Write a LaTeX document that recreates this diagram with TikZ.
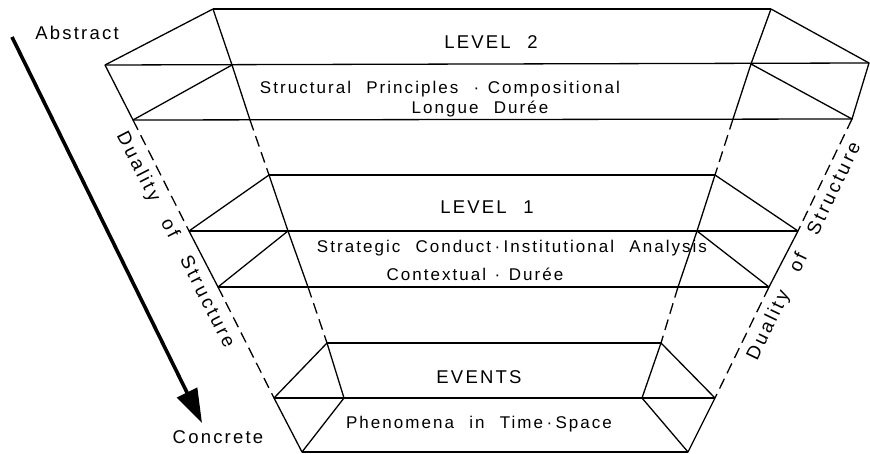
\documentclass[tikz,border=0pt]{standalone}
\usepackage{fontspec}
\setmainfont{Liberation Sans}
\usetikzlibrary{arrows.meta}
\newfontfamily\labfont[LetterSpace=12]{Liberation Sans}
\newfontfamily\sidefont[LetterSpace=15]{Liberation Sans}
\newcommand{\wg}{\hspace{0.9em}}
\begin{document}
\begin{tikzpicture}[x=1pt,y=-1pt,line width=1.3pt,line join=round,
  dashline/.style={dash pattern=on 11pt off 6pt},
  lbl/.style={font=\labfont\fontsize{17}{20}\selectfont,inner sep=0pt,anchor=base},
  head/.style={font=\labfont\fontsize{18.5}{22}\selectfont,inner sep=0pt,anchor=base},
  side/.style={font=\sidefont\fontsize{19}{22}\selectfont,inner sep=0pt,anchor=base}]
\useasboundingbox (0,0) rectangle (870,454);
% level 2
\coordinate (A2) at (213,9);  \coordinate (B2) at (771,9);
\coordinate (L2) at (105,65); \coordinate (R2) at (869,63);
\coordinate (M2L) at (232,65); \coordinate (M2R) at (751,64);
\coordinate (BL2) at (133,120); \coordinate (BR2) at (852,119);
\coordinate (I2L) at (250,120); \coordinate (I2R) at (733,119);
% level 1
\coordinate (A1) at (269,175); \coordinate (B1) at (715,175);
\coordinate (L1) at (189,231); \coordinate (R1) at (798,231);
\coordinate (M1L) at (288,231); \coordinate (M1R) at (697,231);
\coordinate (BL1) at (218,287); \coordinate (BR1) at (769,287);
\coordinate (I1L) at (308,287); \coordinate (I1R) at (678,287);
% events
\coordinate (A0) at (327,343); \coordinate (B0) at (661,343);
\coordinate (L0) at (274,398); \coordinate (R0) at (715,398);
\coordinate (M0L) at (344,398); \coordinate (M0R) at (642,398);
\coordinate (BL0) at (302,452); \coordinate (BR0) at (688,452);
% solid frames
\foreach \n in {2,1}{
  \draw (A\n) -- (B\n);
  \draw (L\n) -- (R\n);
  \draw (BL\n) -- (BR\n);
  \draw (A\n) -- (L\n) -- (BL\n) -- (M\n L);
  \draw (A\n) -- (M\n L) -- (I\n L);
  \draw (B\n) -- (R\n) -- (BR\n) -- (M\n R);
  \draw (B\n) -- (M\n R) -- (I\n R);
}
\draw (A0) -- (B0);
\draw (L0) -- (R0);
\draw (BL0) -- (BR0);
\draw (A0) -- (L0) -- (BL0) -- (M0L) -- (A0);
\draw (B0) -- (R0) -- (BR0) -- (M0R) -- (B0);
% dashed connections
\draw[dashline] (I2L) -- (A1);
\draw[dashline] (I2R) -- (B1);
\draw[dashline] (I1L) -- (A0);
\draw[dashline] (I1R) -- (B0);
\draw[dashline] (BL2) -- (L1);
\draw[dashline] (BR2) -- (R1);
\draw[dashline] (BL1) -- (L0);
\draw[dashline] (BR1) -- (R0);
% arrow
\node[head] (abs) at (77,39.5) {Abstract};
\node[head] (con) at (218,443) {Concrete};
\coordinate (arS) at (12,37);
\coordinate (arE) at (202,423);
\draw[line width=3.6pt,-{Triangle[length=34pt,width=22pt]}] (arS) -- (arE);
% headings
\node[head] (lv2) at (491,49) {LEVEL\wg 2};
\node[lbl] (t2a) at (440,94) {Structural\wg Principles\wg·\hspace{0.5em}Compositional};
\node[lbl] (t2b) at (480,114) {Longue\wg Durée};
\node[head] (lv1) at (487,214) {LEVEL\wg 1};
\node[lbl] (t1a) at (512,253) {Strategic\wg Conduct\hspace{0.2em}·\hspace{0.2em}Institutional\wg Analysis};
\node[lbl] (t1b) at (475,281) {Contextual\hspace{0.5em}·\hspace{0.5em}Durée};
\node[head] (ev) at (479,383) {EVENTS};
\node[lbl] (t0) at (479,428) {Phenomena\wg in\wg Time\hspace{0.2em}·\hspace{0.2em}Space};
% duality
\node[side,rotate=-63] (dl) at (170.6,242.3) {Duality\hspace{1.2em}of\hspace{1.2em}Structure};
\node[side,rotate=64.3] (dr) at (809,254) {Duality\hspace{1.2em}of\hspace{1.2em}Structure};
\end{tikzpicture}
\end{document}
